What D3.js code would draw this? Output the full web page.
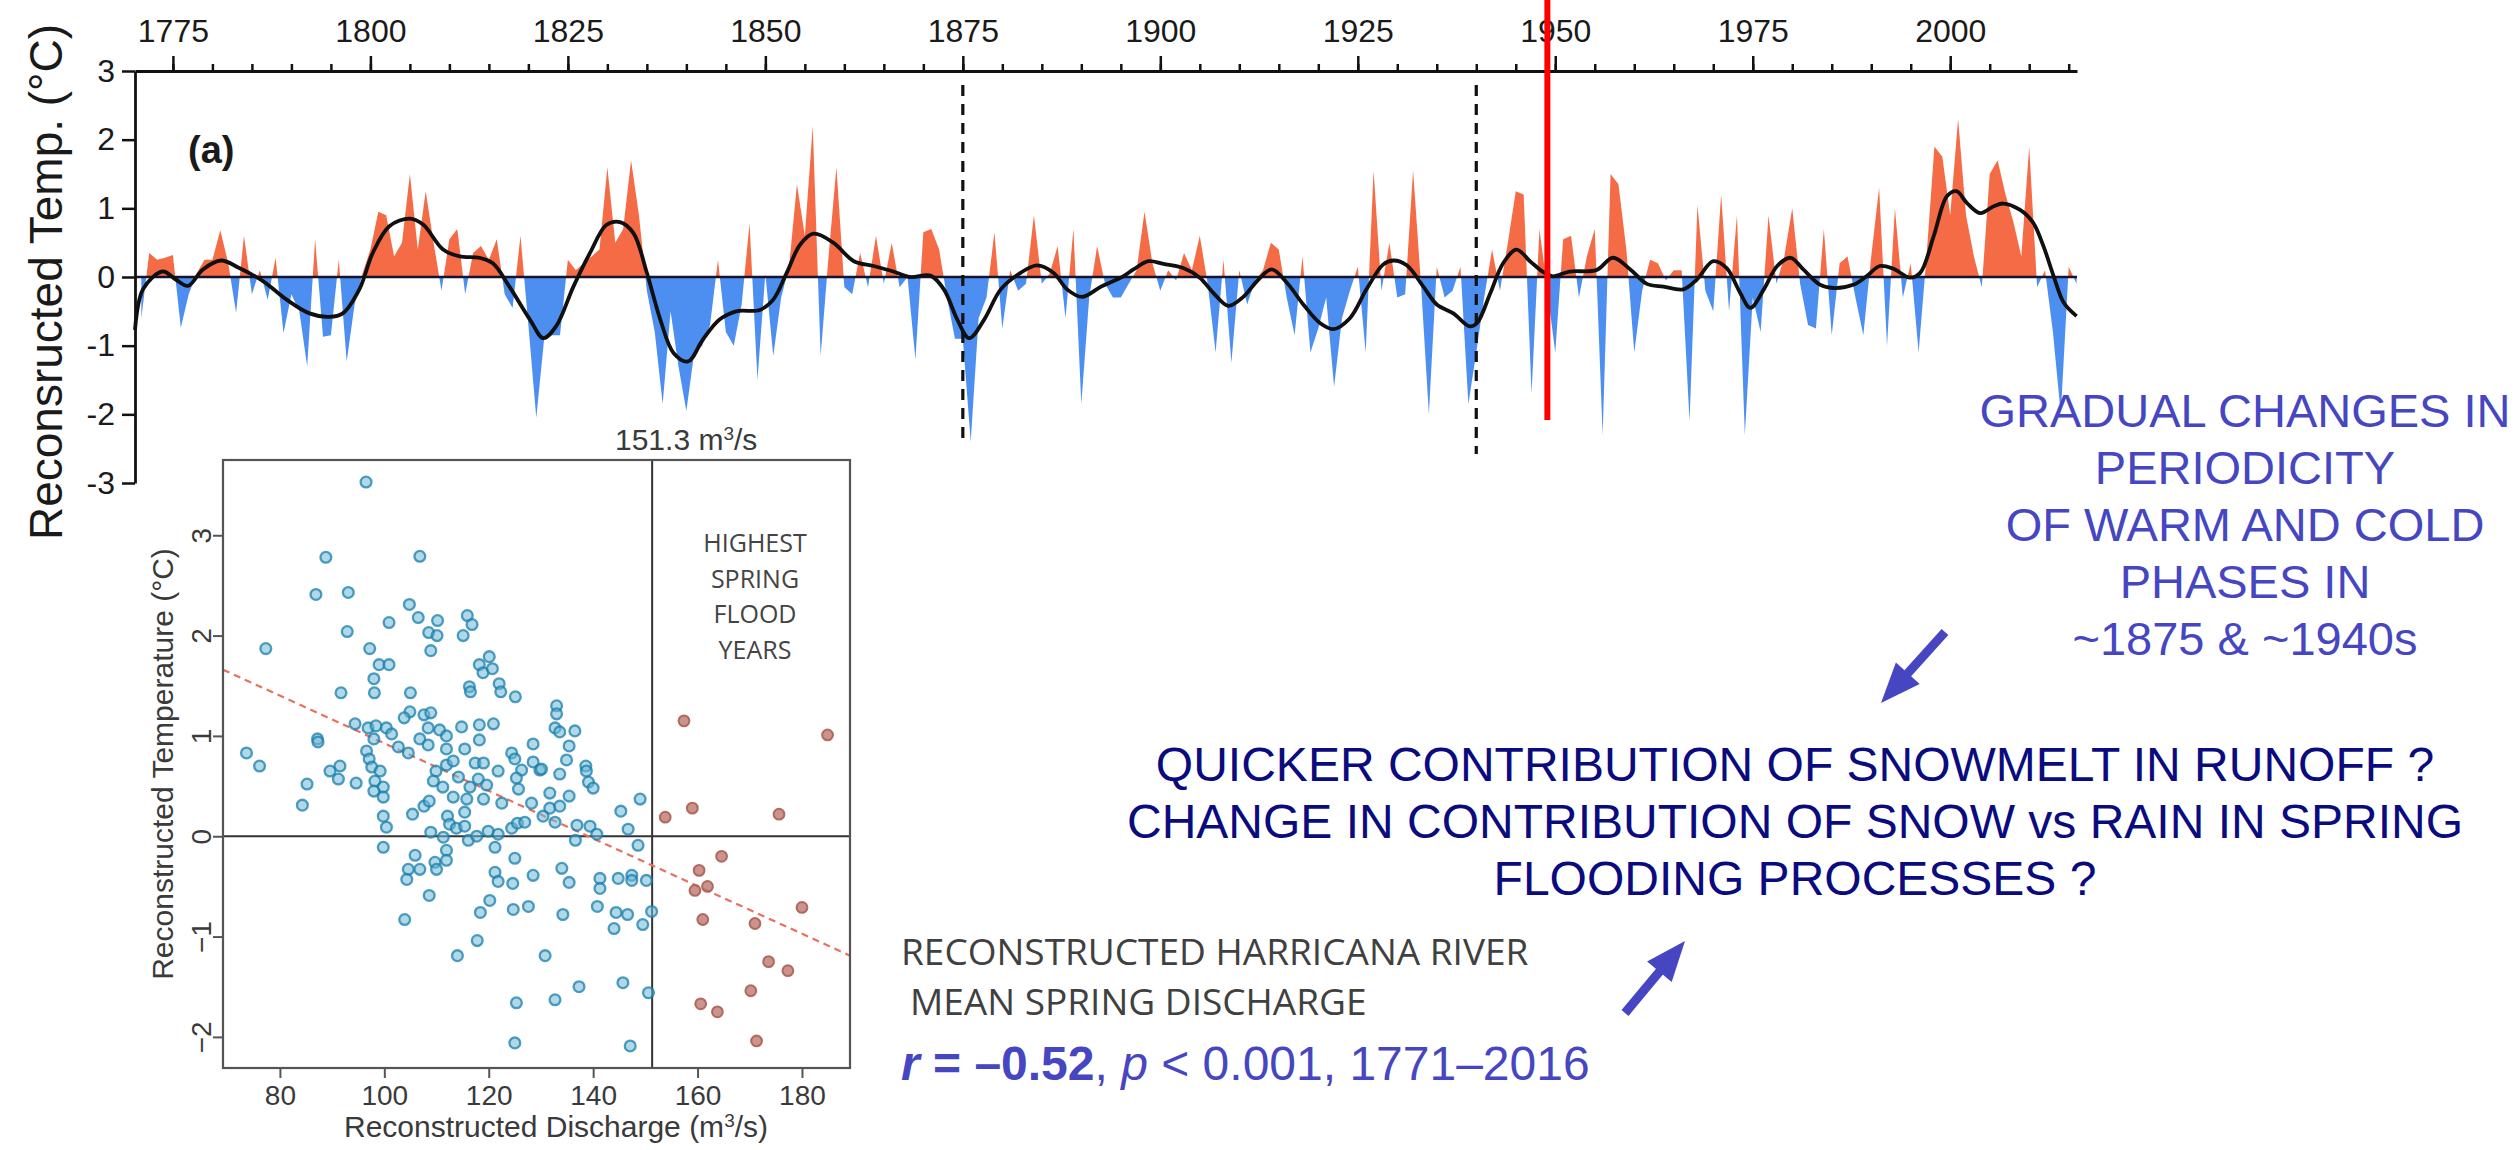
<!DOCTYPE html>
<html>
<head>
<meta charset="utf-8">
<script src="https://cdn.jsdelivr.net/npm/d3@7"></script>
<style>
	body { margin: 0; background: #fff; }
	svg { display: block; }
</style>
</head>
<body>
<div id="chart"></div>
<script>
'use strict';

// reconstructed annual temperature anomaly, one value per year from firstYear
var firstYear = 1771;
var annualTemps = [
	-0.6, 0.35, 0.25, 0.28, 0.32, -0.74, -0.25, 0.05, 0.25, 0.25,
	0.68, 0.2, -0.52, 0.6, -0.25, 0.1, -0.33, 0.28, -0.82, -0.25,
	-0.5, -1.3, 0.55, -0.87, -0.85, 0.25, -1.23, -0.4, 0.05, 0.4,
	0.95, 0.9, 0.3, 0.5, 1.5, 0.4, 1.25, 0.5, -0.2, 0.55,
	0.7, -0.25, 0.35, 0.45, 0.25, 0.55, -0.25, -0.45, 0.6, -0.7,
	-2.05, -0.9, -0.85, -0.85, 0.25, 0.1, 0.2, 0.3, 0.4, 1.6,
	0.5, 0.7, 1.7, 0.9, -0.2, -0.8, -1.85, -0.5, -1.3, -1.95,
	-1.1, -1.0, -0.7, 0.25, -0.8, -1.0, -0.4, 0.78, -1.5, 0.05,
	-1.15, -0.3, 0.15, 1.35, 0.6, 2.2, -1.15, 0.3, 1.6, -0.15,
	-0.25, 0.35, -0.15, 0.6, -0.1, 0.5, -0.15, 0.0, -1.2, 0.65,
	0.7, 0.4, -0.3, -0.9, -0.9, -2.4, -0.6, -0.3, 0.65, -0.75,
	0.1, -0.2, -0.1, 0.9, -0.1, 0.05, 0.45, -0.6, 0.7, -1.85,
	-0.3, 0.45, -0.1, -0.3, -0.3, -0.1, 0.1, 0.95, 0.2, -0.2,
	0.1, -0.05, 0.35, 0.1, 0.6, -0.1, -1.1, 0.25, -1.25, 0.1,
	-0.4, -0.05, 0.1, 0.5, 0.4, -0.3, -0.85, 0.3, -1.1, -0.75,
	-0.3, -1.6, -0.6, -0.2, 0.15, -1.1, 1.55, -0.2, 0.5, -0.3,
	-0.25, 1.55, -0.1, -2.0, 0.15, -0.3, -0.2, 0.15, -1.85, -1.1,
	-0.3, 0.4, -0.2, 0.5, 1.25, 1.2, -1.7, 0.7, -0.2, -1.1,
	0.55, 0.6, -0.3, 0.3, 0.7, -2.3, 1.5, 1.35, 0.4, -1.1,
	-0.2, 0.25, 0.2, -0.05, 0.1, 0.1, -2.1, 1.05, -0.2, -0.5,
	1.2, -0.5, 0.9, -2.3, -0.3, -0.8, 0.9, -0.1, 0.3, 1.0,
	-0.1, -0.7, -0.75, 0.7, -0.85, 0.2, 0.3, -0.3, -0.85, 0.3,
	1.3, -1.0, 1.0, -0.3, 0.2, -1.1, 0.3, 1.9, 1.75, 0.9,
	2.3, 0.9, 0.3, -0.15, 1.5, 1.7, 1.2, 0.8, 0.3, 1.9,
	-0.15, 0.1, -0.8, -2.0, 0.15, -0.1
];

// smoothed curve
var smoothYears = [
	1770.2, 1771.2, 1773.7, 1775.4, 1776.9, 1778.8, 1781.1, 1783.4, 1786.4, 1789.4,
	1792.3, 1794.8, 1796.5, 1798.6, 1800.3, 1802.4, 1805.0, 1806.7, 1809.2, 1811.3,
	1813.8, 1815.5, 1817.6, 1820.2, 1821.9, 1823.5, 1825.7, 1827.8, 1829.9, 1831.6,
	1833.3, 1835.0, 1836.7, 1838.4, 1840.2, 1842.1, 1844.2, 1846.3, 1849.3, 1851.0,
	1852.7, 1854.4, 1856.1, 1858.6, 1861.2, 1863.7, 1866.2, 1868.3, 1870.9, 1872.6,
	1874.3, 1875.8, 1877.7, 1879.8, 1882.3, 1884.4, 1886.5, 1888.2, 1890.1, 1892.5,
	1895.3, 1896.6, 1898.5, 1900.4, 1902.9, 1905.0, 1906.7, 1908.6, 1910.5, 1912.4,
	1914.1, 1916.0, 1918.1, 1920.2, 1921.9, 1924.0, 1926.1, 1928.2, 1929.5, 1931.2,
	1933.3, 1935.0, 1937.1, 1939.2, 1940.1, 1941.8, 1943.4, 1945.1, 1946.8, 1948.5,
	1949.7, 1951.8, 1955.2, 1957.3, 1959.5, 1961.6, 1963.7, 1966.2, 1967.9, 1970.0,
	1971.7, 1973.4, 1974.7, 1976.4, 1978.1, 1979.8, 1981.4, 1983.5, 1985.2, 1987.8,
	1989.4, 1991.1, 1992.8, 1994.9, 1996.2, 1997.9, 1999.6, 2000.8, 2002.1, 2003.8,
	2005.5, 2006.7, 2008.8, 2010.5, 2011.8, 2013.1, 2014.4, 2016.0
];
var smoothTemps = [
	-0.77, -0.18, 0.08, -0.04, -0.13, 0.11, 0.24, 0.13, -0.06, -0.33,
	-0.53, -0.58, -0.53, -0.18, 0.35, 0.74, 0.85, 0.76, 0.40, 0.30,
	0.28, 0.20, -0.14, -0.62, -0.89, -0.72, -0.14, 0.35, 0.76, 0.80,
	0.64, 0.06, -0.62, -1.11, -1.23, -0.91, -0.62, -0.50, -0.48, -0.33,
	0.06, 0.47, 0.63, 0.50, 0.23, 0.16, 0.08, 0.0, 0.02, -0.18,
	-0.62, -0.89, -0.62, -0.18, 0.06, 0.17, 0.06, -0.18, -0.29, -0.14,
	0.01, 0.11, 0.23, 0.19, 0.13, -0.01, -0.23, -0.42, -0.29, -0.04,
	0.11, -0.08, -0.40, -0.67, -0.76, -0.60, -0.18, 0.18, 0.24, 0.17,
	-0.14, -0.40, -0.53, -0.72, -0.67, -0.23, 0.20, 0.40, 0.23, 0.07,
	0.01, 0.08, 0.10, 0.28, 0.11, -0.10, -0.14, -0.18, -0.04, 0.23,
	0.13, -0.23, -0.45, -0.18, 0.16, 0.28, 0.11, -0.11, -0.16, -0.11,
	0.01, 0.16, 0.12, -0.01, 0.06, 0.59, 1.18, 1.25, 1.08, 0.93,
	1.03, 1.07, 0.98, 0.79, 0.45, 0.01, -0.38, -0.57
];

var yearTicks = [1775, 1800, 1825, 1850, 1875, 1900, 1925, 1950, 1975, 2000];
var minorYearTicks = d3.range(1775, 2016, 5);
var tempTicks = [-3, -2, -1, 0, 1, 2, 3];
var breakYears = [1875, 1940];
var markerYear = 1949;

// inset: reconstructed discharge (m3/s) vs temperature (°C)
var normalPoints = [
	[96.5, 3.53], [88.8, 2.78], [106.8, 2.79], [86.9, 2.41], [93.1, 2.43], [92.9, 2.04], [77.3, 1.87],
	[104.8, 2.31], [106.5, 2.18], [110.2, 2.15], [100.9, 2.13], [108.5, 2.03], [110.1, 2.0], [108.9, 1.85],
	[97.2, 1.87], [115.9, 2.2], [116.8, 2.11], [115.1, 2.0], [99.0, 1.71], [100.9, 1.71], [98.0, 1.57],
	[98.1, 1.43], [91.7, 1.43], [105.0, 1.43], [120.1, 1.79], [118.2, 1.71], [118.9, 1.63], [120.7, 1.67],
	[116.3, 1.49], [116.5, 1.44], [122.0, 1.52], [122.3, 1.44], [125.1, 1.39], [104.9, 1.24], [103.8, 1.18],
	[107.6, 1.21], [108.9, 1.23], [94.4, 1.12], [96.9, 1.08], [98.4, 1.1], [100.4, 1.08], [101.4, 1.02],
	[108.4, 1.08], [110.6, 1.06], [111.9, 1.0], [114.8, 1.09], [118.2, 1.11], [120.9, 1.12], [118.2, 0.96],
	[87.2, 0.97], [87.3, 0.94], [98.0, 0.97], [102.7, 0.89], [104.6, 0.83], [106.8, 0.97], [108.4, 0.91],
	[111.9, 0.87], [115.4, 0.87], [73.6, 0.83], [76.1, 0.70], [89.6, 0.65], [91.5, 0.70], [91.2, 0.57],
	[96.6, 0.85], [97.1, 0.77], [97.6, 0.69], [99.2, 0.65], [98.2, 0.55], [99.8, 0.49], [98.0, 0.45],
	[99.8, 0.39], [94.6, 0.53], [85.2, 0.52], [84.3, 0.31], [99.8, 0.20], [100.4, 0.09], [99.8, -0.11],
	[105.4, 0.22], [107.6, 0.30], [108.6, 0.35], [109.9, 0.65], [111.9, 0.71], [113.2, 0.75], [114.2, 0.59],
	[109.4, 0.55], [111.2, 0.49], [113.2, 0.39], [115.8, 0.37], [116.4, 0.49], [117.4, 0.73], [119.0, 0.73],
	[118.0, 0.57], [119.0, 0.37], [119.6, 0.51], [121.8, 0.65], [122.5, 0.33], [124.4, 0.83], [125.0, 0.77],
	[126.3, 0.66], [125.3, 0.58], [125.7, 0.47], [128.5, 0.92], [128.5, 0.74], [129.8, 0.66], [128.2, 0.33],
	[112.1, 0.20], [112.5, 0.12], [113.8, 0.08], [115.4, 0.10], [115.4, 0.24], [108.9, 0.04], [111.3, -0.01],
	[116.1, -0.04], [117.7, 0.0], [119.9, 0.05], [121.8, 0.02], [124.4, 0.08], [125.5, 0.13], [126.9, 0.14],
	[121.2, -0.11], [111.9, -0.14], [111.9, -0.24], [109.7, -0.26], [105.9, -0.19], [106.8, -0.33], [104.6, -0.33],
	[104.3, -0.43], [110.0, -0.33], [108.6, -0.59], [125.0, -0.22], [121.2, -0.36], [121.8, -0.45], [124.6, -0.47],
	[128.5, -0.39], [120.2, -0.64], [124.7, -0.73], [127.6, -0.70], [118.4, -0.76], [103.9, -0.83], [117.8, -1.04],
	[114.0, -1.19], [130.8, -1.19], [125.3, -1.66], [125.0, -2.06],
	[133.0, 1.30], [133.0, 1.22], [132.7, 1.08], [133.6, 1.04], [136.5, 1.05], [135.4, 0.90], [134.9, 0.76],
	[138.6, 0.70], [138.7, 0.65], [130.1, 0.67], [133.6, 0.62], [139.1, 0.54], [140.0, 0.48], [135.4, 0.40],
	[131.7, 0.43], [131.7, 0.28], [133.6, 0.30], [132.7, 0.14], [130.4, 0.20], [149.0, 0.37], [145.3, 0.25],
	[146.7, 0.07], [148.6, -0.09], [136.9, 0.11], [139.4, 0.10], [140.7, 0.02], [136.6, -0.04], [134.0, -0.32],
	[135.4, -0.46], [141.3, -0.42], [141.3, -0.52], [144.8, -0.42], [147.4, -0.39], [147.4, -0.44], [150.2, -0.44],
	[140.8, -0.70], [144.4, -0.76], [146.6, -0.78], [149.5, -0.88], [144.0, -0.92], [151.2, -0.75], [134.2, -0.78],
	[137.3, -1.50], [132.7, -1.63], [145.7, -1.46], [150.6, -1.56], [147.1, -2.09]
];
var floodPoints = [
	[157.4, 1.15], [184.9, 1.01], [153.8, 0.19], [159.0, 0.28], [175.6, 0.22], [164.6, -0.20],
	[160.3, -0.34], [159.5, -0.54], [161.9, -0.50], [161.0, -0.83], [171.0, -0.87], [180.0, -0.71],
	[173.6, -1.25], [177.3, -1.34], [170.2, -1.54], [160.6, -1.67], [163.8, -1.75], [171.3, -2.04]
];
var dischargeTicks = [80, 100, 120, 140, 160, 180];
var scatterTempTicks = [-2, -1, 0, 1, 2, 3];
var thresholdDischarge = 151.3;
var fitDischarge = [69.1, 189.2];
var fitTemps = [1.66, -1.19];

var periodicityLines = ['GRADUAL CHANGES IN', 'PERIODICITY', 'OF WARM AND COLD', 'PHASES IN', '~1875 & ~1940s'];
var questionLines = ['QUICKER CONTRIBUTION OF SNOWMELT IN RUNOFF ?', 'CHANGE IN CONTRIBUTION OF SNOW vs RAIN IN SPRING', 'FLOODING PROCESSES ?'];
var floodLabelLines = ['HIGHEST', 'SPRING', 'FLOOD', 'YEARS'];
var riverLines = ['RECONSTRUCTED HARRICANA RIVER', 'MEAN SPRING DISCHARGE'];

var arrows = [
	{from: [1945, 632], to: [1881, 703]},
	{from: [1625, 1013], to: [1685, 941]}
];

var ORANGE = '#f46b45';
var BLUE = '#4d8ff0';
var PURPLE = '#4646c2';
var NAVY = '#0b0b80';
var ARIAL = '"Liberation Sans", Arial, sans-serif';

var svg = d3.select('#chart')
	.append('svg')
	.attr('width', 2520)
	.attr('height', 1150)
	.style('background', '#fff');

function drawTimeSeries() {
	var x = d3.scaleLinear().domain([1770.2, 2016.05]).range([135, 2077]);
	var y = d3.scaleLinear().domain([-3, 3]).range([483, 71]);

	var annual = annualTemps.map(function(v, i) { return {year: firstYear + i, value: v}; });

	var defs = svg.append('defs');
	defs.append('clipPath').attr('id', 'clip-pos')
		.append('rect').attr('x', 135).attr('y', 0).attr('width', 1942).attr('height', y(0));
	defs.append('clipPath').attr('id', 'clip-neg')
		.append('rect').attr('x', 135).attr('y', y(0)).attr('width', 1942).attr('height', 600);

	var area = d3.area()
		.x(function(d) { return x(d.year); })
		.y0(y(0))
		.y1(function(d) { return y(d.value); });

	var layer = svg.append('g').attr('class', 'series');

	layer.append('path')
		.datum(annual)
		.attr('clip-path', 'url(#clip-pos)')
		.attr('fill', ORANGE)
		.attr('d', area);

	layer.append('path')
		.datum(annual)
		.attr('clip-path', 'url(#clip-neg)')
		.attr('fill', BLUE)
		.attr('d', area);

	layer.append('line')
		.attr('x1', x.range()[0]).attr('x2', x.range()[1])
		.attr('y1', y(0)).attr('y2', y(0))
		.attr('stroke', '#141430')
		.attr('stroke-width', 2.5);

	// dashed break lines
	layer.selectAll('line.break')
		.data(breakYears)
		.enter()
		.append('line')
		.attr('class', 'break')
		.attr('x1', function(d) { return x(d); })
		.attr('x2', function(d) { return x(d); })
		.attr('y1', y(3) + 14)
		.attr('y2', function(d, i) { return i === 0 ? 442 : 454; })
		.attr('stroke', '#111')
		.attr('stroke-width', 3.2)
		.attr('stroke-dasharray', '11,8');

	var smooth = smoothYears.map(function(yr, i) { return {year: yr, value: smoothTemps[i]}; });
	var line = d3.line()
		.x(function(d) { return x(d.year); })
		.y(function(d) { return y(d.value); })
		.curve(d3.curveCatmullRom.alpha(0.5));

	layer.append('path')
		.datum(smooth)
		.attr('fill', 'none')
		.attr('stroke', '#101010')
		.attr('stroke-width', 3.8)
		.attr('stroke-linejoin', 'round')
		.attr('d', line);

	// axes
	var topAxis = svg.append('g')
		.attr('transform', 'translate(0,' + y(3) + ')')
		.call(d3.axisTop(x).tickValues(yearTicks).tickSize(15).tickSizeOuter(0).tickPadding(14).tickFormat(d3.format('d')));
	svg.append('g')
		.attr('transform', 'translate(0,' + y(3) + ')')
		.call(d3.axisTop(x).tickValues(minorYearTicks).tickSize(7).tickSizeOuter(0).tickFormat(''))
		.call(function(g) { g.select('.domain').remove(); });

	var leftAxis = svg.append('g')
		.attr('transform', 'translate(' + x.range()[0] + ',0)')
		.call(d3.axisLeft(y).tickValues(tempTicks).tickSize(13).tickSizeOuter(0).tickPadding(7).tickFormat(function(d) { return String(d); }));

	[topAxis, leftAxis].forEach(function(g) {
		g.selectAll('text').attr('font-family', ARIAL).attr('font-size', 32).attr('fill', '#1a1a1a');
		g.select('.domain').attr('stroke', '#111').attr('stroke-width', 2.8);
	});
	svg.selectAll('.tick line').attr('stroke', '#111').attr('stroke-width', 2.5);

	svg.append('text')
		.attr('transform', 'translate(62,282) rotate(-90)')
		.attr('text-anchor', 'middle')
		.attr('font-family', ARIAL)
		.attr('font-size', 46)
		.attr('fill', '#1a1a1a')
		.text('Reconsructed Temp. (°C)');

	svg.append('text')
		.attr('x', 188)
		.attr('y', 163)
		.attr('font-family', ARIAL)
		.attr('font-size', 38)
		.attr('font-weight', 'bold')
		.attr('fill', '#1a1a1a')
		.text('(a)');

	// marker year in red
	svg.append('line')
		.attr('x1', x(markerYear)).attr('x2', x(markerYear))
		.attr('y1', 0).attr('y2', 420)
		.attr('stroke', '#ff0000')
		.attr('stroke-width', 6);
}

function drawScatter() {
	var sx = d3.scaleLinear().domain([69.1, 189.2]).range([223, 850]);
	var sy = d3.scaleLinear().domain([-2.31, 3.75]).range([1068, 460]);
	var g = svg.append('g').attr('class', 'inset');
	var textColor = '#3a3a3a';

	g.append('line')
		.attr('x1', sx.range()[0]).attr('x2', sx.range()[1])
		.attr('y1', sy(0)).attr('y2', sy(0))
		.attr('stroke', '#333').attr('stroke-width', 2);
	g.append('line')
		.attr('x1', sx(thresholdDischarge)).attr('x2', sx(thresholdDischarge))
		.attr('y1', sy.range()[1]).attr('y2', sy.range()[0])
		.attr('stroke', '#333').attr('stroke-width', 2);

	g.append('line')
		.attr('x1', sx(fitDischarge[0])).attr('x2', sx(fitDischarge[1]))
		.attr('y1', sy(fitTemps[0])).attr('y2', sy(fitTemps[1]))
		.attr('stroke', '#e8705f')
		.attr('stroke-width', 2.2)
		.attr('stroke-dasharray', '7,5');

	g.selectAll('circle.normal')
		.data(normalPoints)
		.enter()
		.append('circle')
		.attr('class', 'normal')
		.attr('cx', function(d) { return sx(d[0]); })
		.attr('cy', function(d) { return sy(d[1]); })
		.attr('r', 5.4)
		.attr('fill', 'rgba(110,185,215,0.55)')
		.attr('stroke', 'rgba(25,125,170,0.75)')
		.attr('stroke-width', 2.3);

	g.selectAll('circle.flood')
		.data(floodPoints)
		.enter()
		.append('circle')
		.attr('class', 'flood')
		.attr('cx', function(d) { return sx(d[0]); })
		.attr('cy', function(d) { return sy(d[1]); })
		.attr('r', 5.4)
		.attr('fill', 'rgba(190,120,110,0.8)')
		.attr('stroke', 'rgba(170,95,85,0.9)')
		.attr('stroke-width', 2);

	g.append('rect')
		.attr('x', sx.range()[0]).attr('y', sy.range()[1])
		.attr('width', sx.range()[1] - sx.range()[0])
		.attr('height', sy.range()[0] - sy.range()[1])
		.attr('fill', 'none')
		.attr('stroke', '#555')
		.attr('stroke-width', 2.2);

	var bottom = g.append('g')
		.attr('transform', 'translate(0,' + sy.range()[0] + ')')
		.call(d3.axisBottom(sx).tickValues(dischargeTicks).tickSize(10).tickPadding(7).tickFormat(d3.format('d')));
	var left = g.append('g')
		.attr('transform', 'translate(' + sx.range()[0] + ',0)')
		.call(d3.axisLeft(sy).tickValues(scatterTempTicks).tickSize(10).tickPadding(2).tickFormat(d3.format('d')));

	[bottom, left].forEach(function(a) {
		a.select('.domain').remove();
		a.selectAll('line').attr('stroke', '#555').attr('stroke-width', 2);
		a.selectAll('text').attr('font-family', ARIAL).attr('font-size', 28).attr('fill', textColor);
	});
	left.selectAll('text')
		.attr('text-anchor', 'middle')
		.attr('x', null)
		.attr('dy', '0em')
		.attr('transform', 'translate(-12,0) rotate(-90)');

	g.append('text')
		.attr('x', 556).attr('y', 1137)
		.attr('text-anchor', 'middle')
		.attr('font-family', ARIAL).attr('font-size', 30).attr('fill', textColor)
		.html('Reconstructed Discharge (m<tspan dy="-10" font-size="19">3</tspan><tspan dy="10">/s)</tspan>');

	g.append('text')
		.attr('transform', 'translate(173,' + ((sy.range()[0] + sy.range()[1]) / 2) + ') rotate(-90)')
		.attr('text-anchor', 'middle')
		.attr('font-family', ARIAL).attr('font-size', 30).attr('fill', textColor)
		.text('Reconstructed Temperature (°C)');

	g.append('text')
		.attr('x', 615).attr('y', 450)
		.attr('font-family', ARIAL).attr('font-size', 30).attr('fill', textColor)
		.html('151.3 m<tspan dy="-10" font-size="19">3</tspan><tspan dy="10">/s</tspan>');

	g.selectAll('text.flood-label')
		.data(floodLabelLines)
		.enter()
		.append('text')
		.attr('class', 'flood-label')
		.attr('x', 755)
		.attr('y', function(d, i) { return 552 + i * 35.5; })
		.attr('text-anchor', 'middle')
		.attr('font-family', '"Open Sans", sans-serif')
		.attr('font-size', 25)
		.attr('fill', '#444')
		.text(function(d) { return d; });
}

function drawAnnotations() {
	svg.selectAll('text.periodicity')
		.data(periodicityLines)
		.enter()
		.append('text')
		.attr('class', 'periodicity')
		.attr('x', 2245)
		.attr('y', function(d, i) { return 427 + i * 57; })
		.attr('text-anchor', 'middle')
		.attr('font-family', ARIAL)
		.attr('font-size', 47)
		.attr('fill', PURPLE)
		.text(function(d) { return d; });

	svg.selectAll('text.question')
		.data(questionLines)
		.enter()
		.append('text')
		.attr('class', 'question')
		.attr('x', 1795)
		.attr('y', function(d, i) { return 781 + i * 57; })
		.attr('text-anchor', 'middle')
		.attr('font-family', ARIAL)
		.attr('font-size', 48)
		.attr('fill', NAVY)
		.text(function(d) { return d; });

	svg.selectAll('text.river')
		.data(riverLines)
		.enter()
		.append('text')
		.attr('class', 'river')
		.attr('x', function(d, i) { return i === 0 ? 901 : 910; })
		.attr('y', function(d, i) { return 965 + i * 50; })
		.attr('font-family', '"Open Sans", sans-serif')
		.attr('font-size', 37)
		.attr('fill', '#404040')
		.text(function(d) { return d; });

	var stats = svg.append('text')
		.attr('x', 901)
		.attr('y', 1080)
		.attr('font-family', ARIAL)
		.attr('font-size', 48)
		.attr('fill', PURPLE);
	stats.append('tspan').attr('font-weight', 'bold').attr('font-style', 'italic').text('r');
	stats.append('tspan').attr('font-weight', 'bold').text(' = \u20130.52');
	stats.append('tspan').text(', ');
	stats.append('tspan').attr('font-style', 'italic').text('p');
	stats.append('tspan').text(' < 0.001, 1771\u20132016');

	var head = 40, half = 16;
	arrows.forEach(function(a) {
		var dx = a.to[0] - a.from[0], dy = a.to[1] - a.from[1];
		var len = Math.sqrt(dx * dx + dy * dy);
		var ux = dx / len, uy = dy / len;
		var bx = a.to[0] - ux * head, by = a.to[1] - uy * head;
		svg.append('line')
			.attr('x1', a.from[0]).attr('y1', a.from[1])
			.attr('x2', bx + ux * 4).attr('y2', by + uy * 4)
			.attr('stroke', PURPLE)
			.attr('stroke-width', 9);
		svg.append('path')
			.attr('d', 'M' + a.to[0] + ',' + a.to[1] +
				'L' + (bx - uy * half) + ',' + (by + ux * half) +
				'L' + (bx + uy * half) + ',' + (by - ux * half) + 'Z')
			.attr('fill', PURPLE);
	});
}

drawTimeSeries();
drawScatter();
drawAnnotations();
</script>
</body>
</html>
